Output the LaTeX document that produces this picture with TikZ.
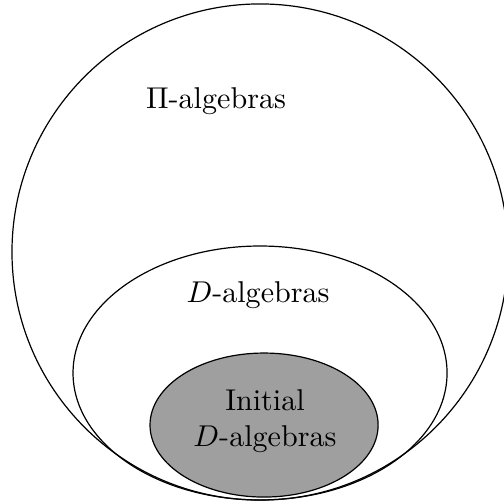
\documentclass[tikz,border=0pt]{standalone}
\usepackage{amsmath}
\usepackage{tikz}

\begin{document}
\begin{tikzpicture}[every node/.style={align=center}]
    \useasboundingbox (-3.037,-2.943) rectangle (2.838,2.943);

    % --- Pi-algebras (outer circle) ---
    \draw (0,0) circle (2.897);
    \node (pialg) at (-0.514, 1.764) {$\Pi$-algebras};

    % --- D-algebras ---
    \draw (0,-1.413) ellipse [x radius=2.184, y radius=1.483];
    \node (dalg) at (-0.023,-0.502) {$D$-algebras};

    % --- Initial D-algebras (shaded) ---
    \filldraw[fill=gray!75] (0.047,-2.021) ellipse [x radius=1.332, y radius=0.841];
    \node (initdalg) at (0.058,-1.974) {Initial\\$D$-algebras};

\end{tikzpicture}
\end{document}
